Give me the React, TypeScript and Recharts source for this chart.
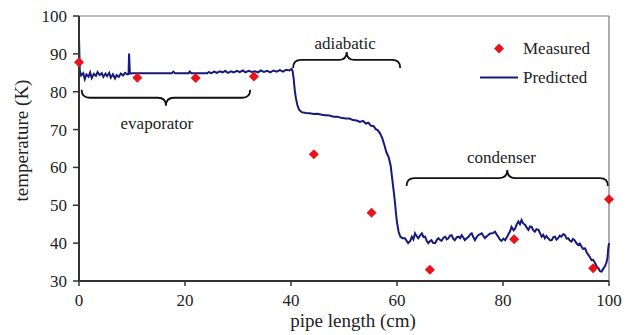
import React from 'react';
import {
  ComposedChart,
  Line,
  Scatter,
  XAxis,
  YAxis,
  ReferenceLine,
  ReferenceDot,
  Legend,
} from 'recharts';

const serif = 'serif';
const navy = '#161a78';
const red = '#e8131b';
const ink = '#222';

const xTicks = [0, 20, 40, 60, 80, 100];
const yTicks = [30, 40, 50, 60, 70, 80, 90, 100];

// thermocouple readings: [pipe length (cm), temperature (K)]
const measured: [number, number][] = [
  [0, 87.8], [11, 83.7], [22, 83.6], [33, 84.0], [44.3, 63.5],
  [55.2, 48.0], [66.2, 33.0], [82.1, 41.0], [97, 33.4], [100, 51.6],
];

// model output along the pipe: [pipe length (cm), temperature (K)]
const predicted: [number, number][] = [
  [0, 94.2], [0.15, 85.5], [0.4, 84.3], [0.8, 84.9], [1.1, 83.3], [1.4, 84.6], [1.8, 84.0],
  [2.1, 85.1], [2.4, 83.6], [2.8, 84.7], [3.2, 84.2], [3.5, 85.2], [3.9, 84.4], [4.3, 84.9],
  [4.6, 83.9], [5.0, 84.8], [5.3, 84.1], [5.7, 85.0], [6.0, 83.7], [6.4, 84.6], [6.8, 83.5],
  [7.1, 84.4], [7.5, 83.9], [7.9, 84.8], [8.3, 84.3], [8.7, 85.0], [9.1, 84.6], [9.35, 84.7],
  [9.45, 90.1], [9.6, 84.8], [10, 84.9], [17.5, 84.9], [17.8, 85.3], [18.1, 84.9],
  [20.7, 84.9], [20.9, 85.3], [21.2, 84.9], [24.2, 84.9], [24.5, 85.2], [25, 84.9],
  [25.5, 85.3], [26, 85.0], [26.6, 85.4], [27.1, 85.1], [27.6, 85.5], [28.1, 85.0],
  [28.7, 85.4], [29.2, 85.1], [29.8, 85.5], [30.3, 85.2], [30.9, 85.6], [31.4, 85.1],
  [32, 85.5], [32.6, 85.2], [33.2, 85.4], [33.8, 85.1], [34.3, 85.6], [34.9, 85.2],
  [35.5, 85.5], [36.1, 85.1], [36.7, 85.6], [37.3, 85.3], [37.9, 85.7], [38.5, 85.3],
  [39.1, 85.8], [39.7, 85.6], [40.1, 86.0], [40.3, 85.5], [40.5, 83.5], [40.7, 80.5],
  [40.9, 78.5], [41.2, 76.5], [41.5, 75.3], [42, 74.6], [42.8, 74.4], [43.5, 74.3],
  [44.3, 74.1], [45, 74.2], [45.8, 73.9], [46.5, 73.8], [47.3, 73.7], [48, 73.4],
  [48.8, 73.4], [49.5, 73.1], [50.3, 72.9], [51, 72.9], [51.7, 72.5], [52.4, 72.4],
  [53, 72.0], [53.6, 72.3], [54.1, 71.6], [54.6, 71.8], [55.1, 71.0], [55.6, 70.9],
  [56, 70.1], [56.4, 69.8], [56.8, 69.0], [57.2, 67.8], [57.6, 66.0], [58.0, 64.0],
  [58.4, 62.8], [58.8, 60.5], [59.1, 57.0], [59.4, 53.5], [59.6, 51.0], [59.8, 48.0],
  [60.0, 45.5], [60.3, 43.0], [60.6, 41.8], [61.0, 41.3],
  [61.5, 41.3], [62.1, 40.0], [62.5, 40.6], [62.8, 41.7], [63.1, 41.0], [63.4, 42.6],
  [63.7, 41.9], [64.0, 41.3], [64.4, 42.1], [64.7, 42.6], [65.0, 41.6], [65.3, 41.7],
  [65.6, 40.6], [65.9, 40.0], [66.2, 40.5], [66.5, 40.8], [66.8, 40.1], [67.2, 40.0],
  [67.5, 40.8], [67.8, 41.3], [68.1, 40.9], [68.4, 40.6], [68.8, 41.5], [69.1, 41.7],
  [69.4, 41.0], [69.7, 41.3], [70.0, 42.0], [70.3, 42.1], [70.6, 41.2], [70.9, 40.8],
  [71.3, 41.6], [71.6, 41.7], [71.9, 41.3], [72.2, 42.1], [72.5, 41.5], [72.8, 40.8],
  [73.1, 41.2], [73.5, 41.7], [73.8, 42.3], [74.1, 42.6], [74.4, 41.6], [74.7, 40.8],
  [75.0, 41.5], [75.3, 42.1], [75.6, 42.3], [76.0, 42.6], [76.3, 41.9], [76.6, 41.3],
  [76.9, 41.8], [77.2, 42.1], [77.5, 42.5], [77.9, 42.6], [78.2, 42.7], [78.5, 43.0],
  [78.8, 42.3], [79.1, 41.7], [79.4, 41.0], [79.7, 40.6], [80.1, 41.2], [80.4, 40.8],
  [80.7, 41.5], [81.0, 42.3], [81.3, 43.0], [81.6, 44.3], [82.0, 43.4], [82.3, 43.9],
  [82.6, 45.0], [82.9, 45.7], [83.2, 45.0], [83.5, 46.1], [83.8, 45.2], [84.2, 44.8],
  [84.5, 44.0], [84.8, 43.5], [85.1, 44.4], [85.4, 44.3], [85.7, 43.4], [86.0, 43.0],
  [86.3, 43.7], [86.7, 43.5], [87.0, 42.6], [87.3, 41.7], [87.6, 42.2], [87.9, 41.3],
  [88.2, 41.9], [88.5, 41.3], [88.9, 40.7], [89.2, 40.8], [89.5, 41.6], [89.8, 41.7],
  [90.1, 40.9], [90.4, 41.3], [90.7, 42.0], [91.0, 41.7], [91.4, 42.4], [91.7, 42.1],
  [92.0, 41.2], [92.3, 41.3], [92.6, 40.7], [92.9, 40.4], [93.2, 41.1], [93.5, 40.8],
  [93.9, 39.9], [94.2, 39.5], [94.5, 39.9], [94.8, 39.1], [95.1, 38.5], [95.5, 38.6],
  [95.8, 37.5], [96.1, 36.9], [96.4, 36.3], [96.7, 35.5], [97.0, 35.6], [97.4, 34.7],
  [97.7, 33.8], [98.0, 33.4], [98.3, 32.6], [98.6, 32.5], [98.9, 33.2], [99.2, 33.8],
  [99.5, 34.8], [99.7, 36.0], [99.85, 38.5], [100, 40.0],
];

// pipe sections marked with braces; dir 1 = tip points down, -1 = tip points up
const sections = [
  { name: 'evaporator', from: 0.5, to: 32.3, level: 78.4, dir: 1, labelX: 14.7, labelY: 71.7 },
  { name: 'adiabatic', from: 40.4, to: 60.6, level: 88.4, dir: -1, labelX: 50.2, labelY: 92.9 },
  { name: 'condenser', from: 61.8, to: 99.8, level: 57.2, dir: -1, labelX: 79.7, labelY: 62.8 },
];

const measuredRows = measured.map(([x, y]) => ({ x, y }));
const predictedRows = predicted.map(([x, y]) => ({ x, y }));

const Diamond = (props: any) => {
  const { cx, cy } = props;
  if (cx == null || cy == null) return null;
  const r = 5;
  return (
    <polygon
      points={`${cx},${cy - r} ${cx + r},${cy} ${cx},${cy + r} ${cx - r},${cy}`}
      fill={red}
    />
  );
};

const makeBrace = (dir: number) => (props: any) => {
  const { x1, x2, y1 } = props;
  if (x1 == null || x2 == null || y1 == null) return null;
  const left = Math.min(x1, x2);
  const right = Math.max(x1, x2);
  const mid = (left + right) / 2;
  const r = 8;
  const curl = 8;
  const tip = 8;
  const d = [
    `M${left},${y1 - dir * curl}`,
    `Q${left},${y1} ${left + r},${y1}`,
    `L${mid - r},${y1}`,
    `Q${mid},${y1} ${mid},${y1 + dir * tip}`,
    `Q${mid},${y1} ${mid + r},${y1}`,
    `L${right - r},${y1}`,
    `Q${right},${y1} ${right},${y1 - dir * curl}`,
  ].join(' ');
  return <path d={d} fill="none" stroke="#111" strokeWidth={1.8} />;
};

const makeLabel = (text: string) => (props: any) => {
  const { cx, cy } = props;
  if (cx == null || cy == null) return null;
  return (
    <text x={cx} y={cy} dy="0.35em" textAnchor="middle" fontFamily={serif} fontSize={17} fill={ink}>
      {text}
    </text>
  );
};

const AxisTick = (props: any) => {
  const { x, y, payload, textAnchor, verticalAnchor } = props;
  const dy = verticalAnchor === 'start' ? '0.71em' : '0.35em';
  return (
    <text x={x} y={y} dy={dy} textAnchor={textAnchor} fontFamily={serif} fontSize={17} fill={ink}>
      {payload.value}
    </text>
  );
};

const YTitle = (props: any) => {
  const vb = props.viewBox || {};
  const cx = 28;
  const cy = (vb.y ?? 16) + (vb.height ?? 265) / 2 - 8;
  return (
    <text
      x={cx}
      y={cy}
      textAnchor="middle"
      fontFamily={serif}
      fontSize={19}
      fill={ink}
      transform={`rotate(-90, ${cx}, ${cy})`}
    >
      temperature (K)
    </text>
  );
};

const XTitle = (props: any) => {
  const vb = props.viewBox || {};
  const cx = (vb.x ?? 79) + (vb.width ?? 530) / 2 + 9;
  return (
    <text x={cx} y={327} textAnchor="middle" fontFamily={serif} fontSize={19} fill={ink}>
      pipe length (cm)
    </text>
  );
};

const LegendBox = () => (
  <div style={{ fontFamily: serif, fontSize: 17, color: ink }}>
    <div style={{ display: 'flex', alignItems: 'center', height: 29 }}>
      <svg width={42} height={29}>
        <polygon points="21,9.5 26,14.5 21,19.5 16,14.5" fill={red} />
      </svg>
      <span style={{ marginLeft: 3 }}>Measured</span>
    </div>
    <div style={{ display: 'flex', alignItems: 'center', height: 29 }}>
      <svg width={42} height={29}>
        <line x1={2} x2={40} y1={14.5} y2={14.5} stroke={navy} strokeWidth={2} />
      </svg>
      <span style={{ marginLeft: 3 }}>Predicted</span>
    </div>
  </div>
);

export default function App() {
  return (
    <div
      style={{
        position: 'absolute',
        left: 0,
        top: 0,
        width: 633,
        height: 335,
        background: '#fff',
        fontFamily: serif,
      }}
    >
      <ComposedChart width={633} height={335} margin={{ top: 16, right: 24, bottom: 0, left: 0 }}>
        <XAxis
          type="number"
          dataKey="x"
          domain={[0, 100]}
          ticks={xTicks}
          height={54}
          tick={<AxisTick />}
          tickSize={5}
          tickMargin={8}
          axisLine={{ stroke: '#333', strokeWidth: 2 }}
          tickLine={{ stroke: '#333', strokeWidth: 1.5 }}
          label={<XTitle />}
        />
        <YAxis
          type="number"
          dataKey="y"
          domain={[30, 100]}
          ticks={yTicks}
          width={79}
          tick={<AxisTick />}
          tickSize={6}
          tickMargin={6}
          axisLine={{ stroke: '#333', strokeWidth: 2 }}
          tickLine={{ stroke: '#333', strokeWidth: 1.5 }}
          label={<YTitle />}
        />
        <ReferenceLine y={100} stroke="#777" strokeWidth={1.2} />
        <ReferenceLine x={100} stroke="#777" strokeWidth={1.2} />
        {sections.map((s) => (
          <ReferenceLine
            key={`brace-${s.name}`}
            segment={[{ x: s.from, y: s.level }, { x: s.to, y: s.level }]}
            shape={makeBrace(s.dir)}
          />
        ))}
        {sections.map((s) => (
          <ReferenceDot
            key={`label-${s.name}`}
            x={s.labelX}
            y={s.labelY}
            r={0}
            shape={makeLabel(s.name)}
          />
        ))}
        <Line
          data={predictedRows}
          dataKey="y"
          name="Predicted"
          type="linear"
          stroke={navy}
          strokeWidth={2}
          dot={false}
          activeDot={false}
          isAnimationActive={false}
        />
        <Scatter
          data={measuredRows}
          dataKey="y"
          name="Measured"
          fill={red}
          shape={Diamond}
          isAnimationActive={false}
        />
        <Legend
          layout="vertical"
          align="center"
          verticalAlign="middle"
          wrapperStyle={{ left: 478, top: 34, width: 140 }}
          content={() => <LegendBox />}
        />
      </ComposedChart>
    </div>
  );
}
